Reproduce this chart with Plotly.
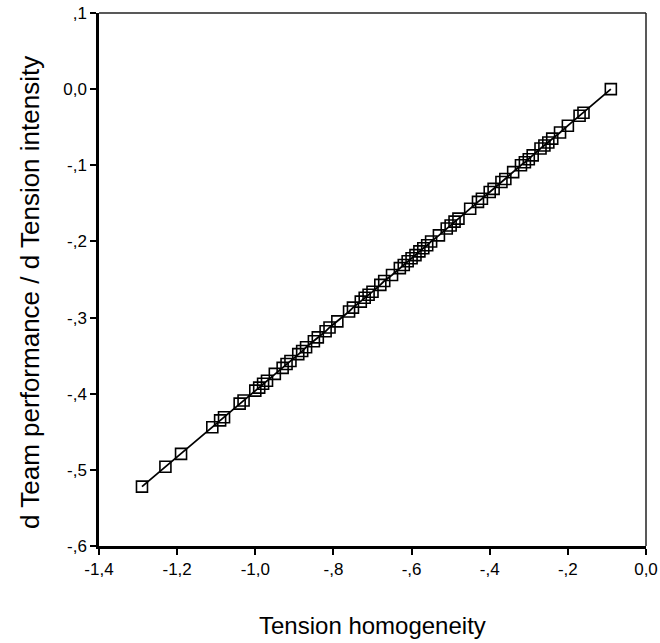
import plotly.graph_objects as go

tension_homogeneity = [
    -1.29, -1.23, -1.19, -1.11, -1.09, -1.08, -1.04, -1.03, -1.00, -0.99,
    -0.98, -0.97, -0.95, -0.93, -0.92, -0.91, -0.89, -0.88, -0.87, -0.85,
    -0.84, -0.82, -0.81, -0.79, -0.76, -0.75, -0.73, -0.72, -0.71, -0.70,
    -0.68, -0.67, -0.65, -0.63, -0.62, -0.61, -0.60, -0.59, -0.58, -0.57,
    -0.56, -0.55, -0.53, -0.51, -0.50, -0.49, -0.48, -0.45, -0.43, -0.42,
    -0.40, -0.39, -0.37, -0.36, -0.34, -0.32, -0.31, -0.30, -0.29, -0.27,
    -0.26, -0.25, -0.24, -0.22, -0.20, -0.17, -0.16, -0.09,
]
d_perf_d_intensity = [
    -0.522, -0.496, -0.479, -0.444, -0.435, -0.431, -0.413, -0.409, -0.396, -0.392,
    -0.387, -0.383, -0.374, -0.366, -0.361, -0.357, -0.348, -0.344, -0.339, -0.331,
    -0.326, -0.318, -0.313, -0.305, -0.292, -0.287, -0.279, -0.274, -0.270, -0.266,
    -0.257, -0.252, -0.244, -0.235, -0.231, -0.226, -0.222, -0.218, -0.213, -0.209,
    -0.205, -0.200, -0.192, -0.183, -0.179, -0.174, -0.170, -0.157, -0.148, -0.144,
    -0.135, -0.131, -0.122, -0.118, -0.109, -0.100, -0.096, -0.092, -0.087, -0.078,
    -0.074, -0.070, -0.065, -0.057, -0.048, -0.035, -0.031, 0.000,
]

x_tick_vals = [-1.4, -1.2, -1.0, -0.8, -0.6, -0.4, -0.2, 0.0]
x_tick_text = ["-1,4", "-1,2", "-1,0", "-,8", "-,6", "-,4", "-,2", "0,0"]
y_tick_vals = [0.1, 0.0, -0.1, -0.2, -0.3, -0.4, -0.5, -0.6]
y_tick_text = [",1", "0,0", "-,1", "-,2", "-,3", "-,4", "-,5", "-,6"]

FONT = "Liberation Sans, Arial, sans-serif"

fig = go.Figure()
fig.add_trace(go.Scatter(
    x=tension_homogeneity, y=d_perf_d_intensity,
    mode="lines+markers",
    line=dict(color="black", width=1.8),
    marker=dict(symbol="square-open", size=11, color="black", line=dict(width=1.6, color="black")),
    showlegend=False,
))

fig.update_layout(
    width=660, height=643,
    margin=dict(l=99, r=14, t=13, b=97, autoexpand=False),
    paper_bgcolor="white", plot_bgcolor="white",
    font=dict(family=FONT, color="black"),
    xaxis=dict(
        range=[-1.4, 0.0], tickvals=x_tick_vals, ticktext=x_tick_text,
        showgrid=False, zeroline=False, showline=True, linecolor="black", linewidth=2.5,
        ticks="outside", ticklen=6, tickwidth=1.5, tickcolor="black",
        tickfont=dict(size=17, family=FONT), ticklabeloverflow="allow", automargin=False,
    ),
    yaxis=dict(
        range=[-0.6, 0.1], tickvals=y_tick_vals, ticktext=y_tick_text,
        showgrid=False, zeroline=False, showline=True, linecolor="black", linewidth=2.5,
        ticks="outside", ticklen=6, tickwidth=1.5, tickcolor="black",
        tickfont=dict(size=17, family=FONT), ticklabeloverflow="allow", automargin=False,
    ),
    shapes=[
        dict(type="line", xref="paper", yref="paper", x0=0, x1=1, y0=1, y1=1,
             line=dict(color="#222", width=1.5)),
        dict(type="line", xref="paper", yref="paper", x0=1, x1=1, y0=0, y1=1,
             line=dict(color="#222", width=1.5)),
    ],
    annotations=[
        dict(text="Tension homogeneity", xref="paper", yref="paper", x=0.5, y=-0.150,
             xanchor="center", yanchor="middle", showarrow=False,
             font=dict(size=24, family=FONT)),
        dict(text="d Team performance / d Tension intensity", xref="paper", yref="paper",
             x=-0.126, y=0.475, xanchor="center", yanchor="middle", textangle=-90,
             showarrow=False, font=dict(size=26, family=FONT)),
    ],
)

fig.write_html("out.html", config={"displayModeBar": False},
               post_script="document.body.style.margin='0px';")
